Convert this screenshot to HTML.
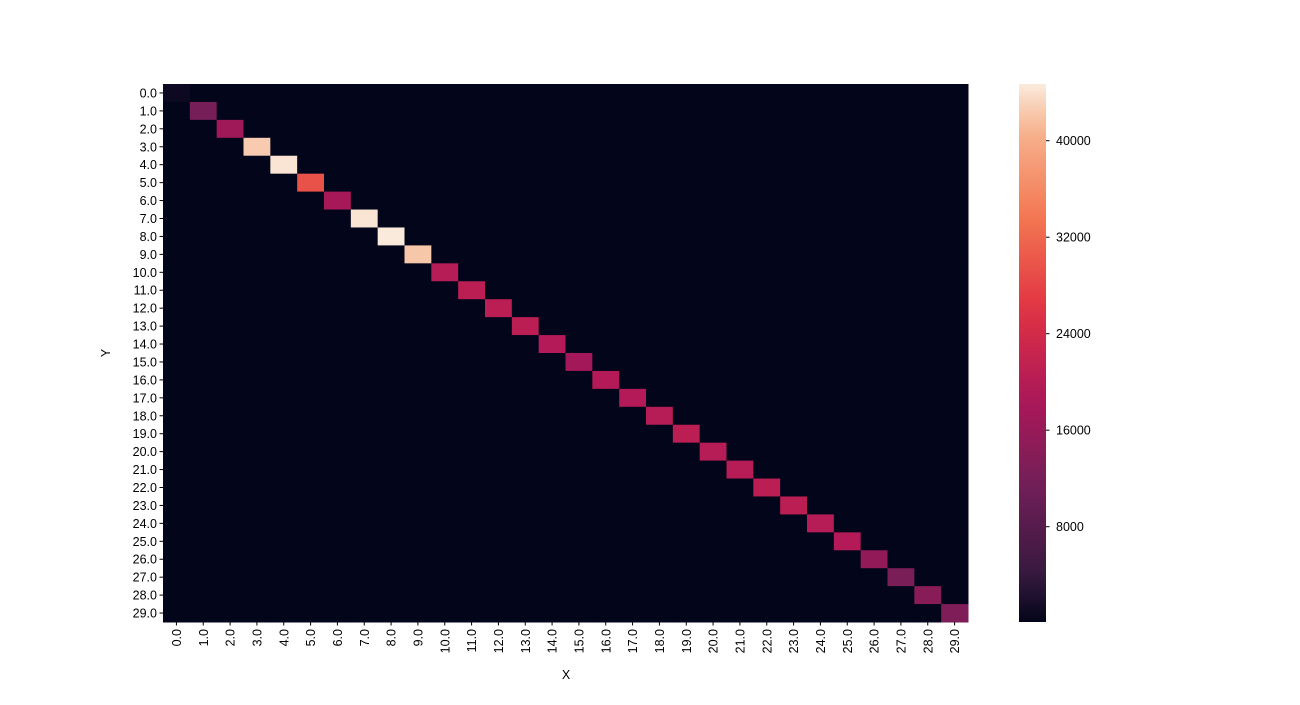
<!DOCTYPE html>
<html><head><meta charset="utf-8"><style>
body{margin:0;background:#fff;}
svg text{font-family:"Liberation Sans","DejaVu Sans",sans-serif;font-size:12.5px;fill:#000;}
</style></head><body>
<svg id="chart" width="1300" height="700" xmlns="http://www.w3.org/2000/svg">
<defs><linearGradient id="cbg" x1="0" y1="1" x2="0" y2="0"></linearGradient></defs>
<g id="cells"></g>
<g id="yticks"></g>
<g id="xticks"></g>
<text x="566" y="679" text-anchor="middle">X</text>
<text x="110" y="353" text-anchor="middle" transform="rotate(-90 110 353)">Y</text>
<rect x="1019" y="84" width="27" height="538" fill="url(#cbg)"/>
<g id="cbticks"></g>
</svg>
<script>
const categories = [];
for (let i = 0; i < 30; i++) categories.push(i.toFixed(1));
const diagValues = [900,12000,17000,42500,44300,29500,18000,44300,44600,42300,
  20000,20500,20500,20500,19500,17500,19500,19500,20000,20500,
  20000,20000,20500,20500,20000,19500,15500,12500,14000,13000];
const offValue = 100;
const cbTicks = [8000,16000,24000,32000,40000];
const vmin = 100, vmax = 44700;

const NS = "http://www.w3.org/2000/svg";
const L = 163, T = 84, W = 805, H = 538, n = categories.length;
const cw = W / n, ch = H / n;
const stops = [[0,[3,5,26]],[0.083,[53,25,62]],[0.25,[112,31,87]],[0.417,[173,23,89]],[0.583,[225,51,66]],[0.75,[243,118,81]],[0.917,[246,180,143]],[1,[250,235,221]]];
function cmap(t){t=Math.max(0,Math.min(1,t));
  for(let i=1;i<stops.length;i++){if(t<=stops[i][0]){const a=stops[i-1],b=stops[i];const f=(t-a[0])/(b[0]-a[0]);
    return 'rgb('+a[1].map((v,k)=>Math.round(v+(b[1][k]-v)*f)).join(',')+')';}}
  return 'rgb(250,235,221)';}
function norm(v){return (v-vmin)/(vmax-vmin);}
const xPos = i => L + i*cw, yPos = i => T + i*ch;
const cbY = v => 622 - norm(v)*538;

const g = document.getElementById('cells');
for (let r = 0; r < n; r++) for (let c = 0; c < n; c++) {
  const v = r === c ? diagValues[r] : offValue;
  const el = document.createElementNS(NS,'rect');
  el.setAttribute('x', xPos(c)); el.setAttribute('y', yPos(r));
  el.setAttribute('width', cw+0.5); el.setAttribute('height', ch+0.5);
  el.setAttribute('fill', cmap(norm(v)));
  
  
  g.appendChild(el);
}
const yt = document.getElementById('yticks'), xt = document.getElementById('xticks');
categories.forEach((lab,i)=>{
  const cy = yPos(i)+ch/2;
  const ln = document.createElementNS(NS,'line');
  ln.setAttribute('x1',L-3.5);ln.setAttribute('x2',L);ln.setAttribute('y1',cy);ln.setAttribute('y2',cy);ln.setAttribute('stroke','#000');
  
  
  yt.appendChild(ln);
  const t = document.createElementNS(NS,'text');
  t.setAttribute('x',L-6);t.setAttribute('y',cy+4.5);t.setAttribute('text-anchor','end');t.textContent=lab;
  
  
  yt.appendChild(t);
  const cx = xPos(i)+cw/2;
  const l2 = document.createElementNS(NS,'line');
  l2.setAttribute('x1',cx);l2.setAttribute('x2',cx);l2.setAttribute('y1',T+H);l2.setAttribute('y2',T+H+3.5);l2.setAttribute('stroke','#000');
  
  
  xt.appendChild(l2);
  const t2 = document.createElementNS(NS,'text');
  t2.setAttribute('x',cx+4.5);t2.setAttribute('y',T+H+7);t2.setAttribute('text-anchor','end');
  t2.setAttribute('transform','rotate(-90 '+(cx+4.5)+' '+(T+H+7)+')');t2.textContent=lab;
  
  
  xt.appendChild(t2);
});
const grad = document.getElementById('cbg');
for (let i=0;i<=20;i++){const s=document.createElementNS(NS,'stop');s.setAttribute('offset',(i/20));s.setAttribute('stop-color',cmap(i/20));grad.appendChild(s);}
const cbt = document.getElementById('cbticks');
cbTicks.forEach(v=>{
  const y = cbY(v);
  const ln = document.createElementNS(NS,'line');
  ln.setAttribute('x1',1046);ln.setAttribute('x2',1049.5);ln.setAttribute('y1',y);ln.setAttribute('y2',y);ln.setAttribute('stroke','#000');
  
  
  cbt.appendChild(ln);
  const t = document.createElementNS(NS,'text');
  t.setAttribute('x',1056);t.setAttribute('y',y+4.5);t.textContent=v;
  
  
  cbt.appendChild(t);
});
</script>
</body></html>
